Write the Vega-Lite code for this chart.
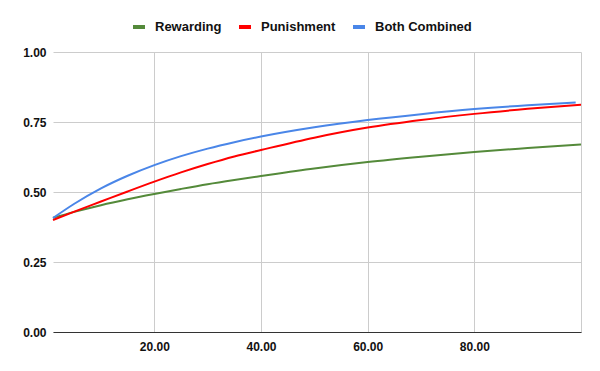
{
  "$schema": "https://vega.github.io/schema/vega-lite/v6.json",
  "autosize": "none",
  "width": 528,
  "height": 280,
  "padding": {"left": 53, "top": 52, "right": 19, "bottom": 39},
  "background": "white",
  "config": {
    "view": {"stroke": null},
    "font": "Liberation Sans"
  },
  "data": {
    "values": [
      {"x": 1, "series": "Rewarding", "v": 0.408},
      {"x": 5, "series": "Rewarding", "v": 0.429},
      {"x": 10, "series": "Rewarding", "v": 0.453},
      {"x": 15, "series": "Rewarding", "v": 0.474},
      {"x": 20, "series": "Rewarding", "v": 0.493},
      {"x": 25, "series": "Rewarding", "v": 0.511},
      {"x": 30, "series": "Rewarding", "v": 0.528},
      {"x": 35, "series": "Rewarding", "v": 0.543},
      {"x": 40, "series": "Rewarding", "v": 0.557},
      {"x": 50, "series": "Rewarding", "v": 0.584},
      {"x": 60, "series": "Rewarding", "v": 0.607},
      {"x": 70, "series": "Rewarding", "v": 0.626},
      {"x": 80, "series": "Rewarding", "v": 0.643},
      {"x": 90, "series": "Rewarding", "v": 0.657},
      {"x": 100, "series": "Rewarding", "v": 0.670},
      {"x": 1, "series": "Punishment", "v": 0.400},
      {"x": 5, "series": "Punishment", "v": 0.430},
      {"x": 10, "series": "Punishment", "v": 0.466},
      {"x": 15, "series": "Punishment", "v": 0.502},
      {"x": 20, "series": "Punishment", "v": 0.537},
      {"x": 25, "series": "Punishment", "v": 0.570},
      {"x": 30, "series": "Punishment", "v": 0.600},
      {"x": 35, "series": "Punishment", "v": 0.627},
      {"x": 40, "series": "Punishment", "v": 0.650},
      {"x": 50, "series": "Punishment", "v": 0.694},
      {"x": 60, "series": "Punishment", "v": 0.730},
      {"x": 70, "series": "Punishment", "v": 0.757},
      {"x": 80, "series": "Punishment", "v": 0.779},
      {"x": 90, "series": "Punishment", "v": 0.797},
      {"x": 100, "series": "Punishment", "v": 0.812},
      {"x": 1, "series": "Both Combined", "v": 0.407},
      {"x": 5, "series": "Both Combined", "v": 0.458},
      {"x": 10, "series": "Both Combined", "v": 0.513},
      {"x": 15, "series": "Both Combined", "v": 0.558},
      {"x": 20, "series": "Both Combined", "v": 0.596},
      {"x": 25, "series": "Both Combined", "v": 0.628},
      {"x": 30, "series": "Both Combined", "v": 0.655},
      {"x": 35, "series": "Both Combined", "v": 0.678},
      {"x": 40, "series": "Both Combined", "v": 0.698},
      {"x": 50, "series": "Both Combined", "v": 0.731},
      {"x": 60, "series": "Both Combined", "v": 0.757},
      {"x": 70, "series": "Both Combined", "v": 0.778},
      {"x": 80, "series": "Both Combined", "v": 0.796},
      {"x": 90, "series": "Both Combined", "v": 0.810},
      {"x": 99, "series": "Both Combined", "v": 0.820}
    ]
  },
  "mark": {"type": "line", "strokeWidth": 2, "interpolate": "monotone"},
  "encoding": {
    "x": {
      "field": "x",
      "type": "quantitative",
      "scale": {"domain": [1, 100], "nice": false, "zero": false},
      "axis": {
        "title": null,
        "values": [20, 40, 60, 80, 100],
        "format": ".2f",
        "labelExpr": "datum.value == 100 ? '' : datum.label",
        "ticks": false,
        "domainColor": "#333333",
        "gridColor": "#cccccc",
        "labelFont": "Liberation Sans",
        "labelFontWeight": "bold",
        "labelFontSize": 12,
        "labelColor": "#111111",
        "labelPadding": 9
      }
    },
    "y": {
      "field": "v",
      "type": "quantitative",
      "scale": {"domain": [0, 1], "nice": false},
      "axis": {
        "title": null,
        "values": [0, 0.25, 0.5, 0.75, 1],
        "format": ".2f",
        "domain": false,
        "ticks": false,
        "gridColor": "#cccccc",
        "labelFont": "Liberation Sans",
        "labelFontWeight": "bold",
        "labelFontSize": 12,
        "labelColor": "#111111",
        "labelPadding": 7
      }
    },
    "color": {
      "field": "series",
      "type": "nominal",
      "sort": ["Rewarding", "Punishment", "Both Combined"],
      "scale": {
        "domain": ["Rewarding", "Punishment", "Both Combined"],
        "range": ["#548a3a", "#ff0000", "#4a86e8"]
      },
      "legend": {
        "title": null,
        "orient": "none",
        "direction": "horizontal",
        "legendX": 78,
        "legendY": -33,
        "symbolType": "stroke",
        "symbolStrokeWidth": 4,
        "symbolSize": 144,
        "labelFont": "Liberation Sans",
        "labelFontWeight": "bold",
        "labelFontSize": 13,
        "labelColor": "#111111",
        "labelOffset": 8,
        "columnPadding": 9
      }
    }
  }
}
